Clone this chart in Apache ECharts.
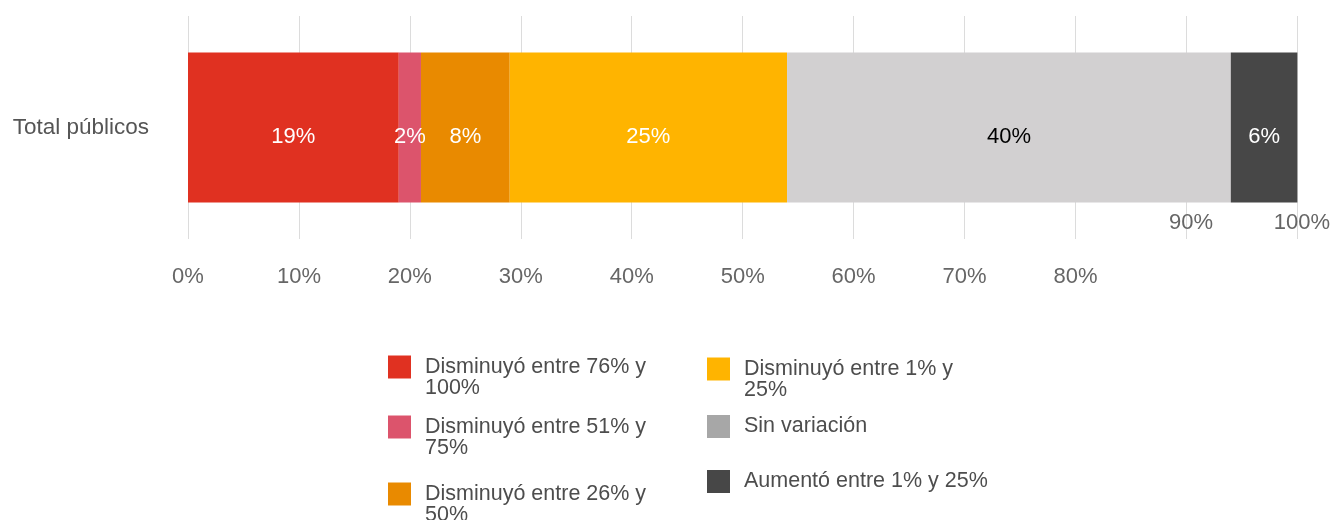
<!DOCTYPE html>
<html>
<head>
<meta charset="utf-8">
<script src="https://cdn.jsdelivr.net/npm/echarts@6/dist/echarts.min.js"></script>
<style>
  html, body { margin: 0; padding: 0; background: #fff; }
  #chart { width: 1333px; height: 520px; }
</style>
</head>
<body>
<div id="chart"></div>
<script>
// Share of public bodies by change category (one stacked bar)
const categories = ['Total públicos'];
const seriesNames = [
  'Disminuyó entre 76% y 100%',
  'Disminuyó entre 51% y 75%',
  'Disminuyó entre 26% y 50%',
  'Disminuyó entre 1% y 25%',
  'Sin variación',
  'Aumentó entre 1% y 25%'
];
const seriesValues = [19, 2, 8, 25, 40, 6];
const xTicks = [0, 10, 20, 30, 40, 50, 60, 70, 80, 90, 100];

const barColors = ['#e03121', '#dc546c', '#e98a00', '#ffb400', '#d2d0d1', '#474747'];
const legendColors = ['#e03121', '#dc546c', '#e98a00', '#ffb400', '#a7a7a7', '#474747'];
const labelColors = ['#fff', '#fff', '#fff', '#fff', '#000', '#fff'];

const FONT = '"Liberation Sans", Arial, Helvetica, sans-serif';

// Legend placement: two columns, one legend block per entry.
// Wrapped entries move their last word to a second line and start with an
// empty line so the first text line sits level with the colour box.
const legendSlots = [
  { left: 388, iconTop: 355, twoLines: true },
  { left: 388, iconTop: 415, twoLines: true },
  { left: 388, iconTop: 482, twoLines: true },
  { left: 707, iconTop: 357, twoLines: true },
  { left: 707, iconTop: 415, twoLines: false },
  { left: 707, iconTop: 470, twoLines: false }
];

const legends = seriesNames.map((name, i) => {
  const slot = legendSlots[i];
  return {
    left: slot.left,
    top: slot.twoLines ? slot.iconTop - 20 : slot.iconTop,
    padding: 0,
    icon: 'rect',
    itemWidth: 23,
    itemHeight: 23,
    selectedMode: false,
    data: [{ name: name, itemStyle: { color: legendColors[i] } }],
    formatter: n => (slot.twoLines ? '\n' + n.replace(/ (\S+)$/, '\n$1') : n),
    textStyle: {
      fontFamily: FONT,
      fontSize: 21.5,
      lineHeight: 21,
      color: '#4d4d4d',
      padding: [0, 0, 0, 9]
    }
  };
});

const chart = echarts.init(document.getElementById('chart'), null, { renderer: 'canvas' });

chart.setOption({
  animation: false,
  backgroundColor: '#fff',
  textStyle: { fontFamily: FONT },
  legend: legends,
  grid: { left: 188, right: 35, top: 16, height: 223, containLabel: false },
  xAxis: [
    {
      type: 'value',
      position: 'bottom',
      min: xTicks[0],
      max: xTicks[xTicks.length - 1],
      interval: 10,
      axisLine: { show: false },
      axisTick: { show: false },
      splitLine: { show: true, lineStyle: { color: '#dcdcdc', width: 1 } },
      axisLabel: {
        fontFamily: FONT,
        fontSize: 22,
        color: '#666',
        margin: 27,
        formatter: v => (v < 90 ? v + '%' : '')
      }
    },
    {
      type: 'value',
      position: 'bottom',
      min: xTicks[0],
      max: xTicks[xTicks.length - 1],
      interval: 10,
      axisLine: { show: false },
      axisTick: { show: false },
      splitLine: { show: false },
      axisLabel: {
        fontFamily: FONT,
        fontSize: 22,
        color: '#666',
        margin: -27,
        padding: [0, 0, 0, 9],
        formatter: v => (v >= 90 ? v + '%' : '')
      }
    }
  ],
  yAxis: {
    type: 'category',
    data: categories,
    axisLine: { show: false },
    axisTick: { show: false },
    axisLabel: {
      fontFamily: FONT,
      fontSize: 22.5,
      color: '#555',
      margin: 39,
      padding: [0, 0, 9, 0]
    }
  },
  series: seriesNames.map((name, i) => ({
    name: name,
    type: 'bar',
    stack: 'total',
    xAxisIndex: 0,
    barWidth: 150,
    data: [seriesValues[i]],
    itemStyle: { color: barColors[i] },
    label: {
      show: true,
      position: 'inside',
      offset: [0, 9],
      fontFamily: FONT,
      fontSize: 22,
      color: labelColors[i],
      formatter: p => p.value + '%'
    }
  }))
});
</script>
</body>
</html>
